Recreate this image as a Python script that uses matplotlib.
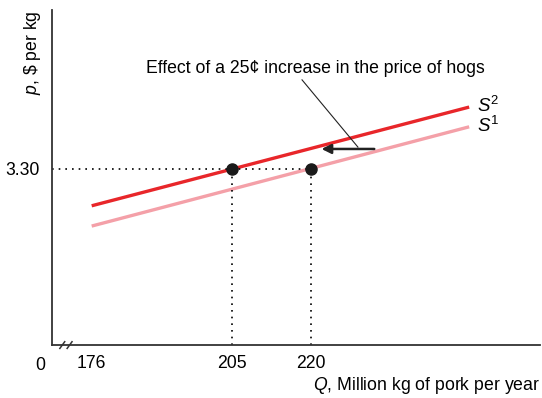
import numpy as np
import matplotlib.pyplot as plt

plt.rcParams['font.family'] = ['Liberation Sans', 'DejaVu Sans']
plt.rcParams['font.size'] = 12.7
plt.rcParams['mathtext.fontset'] = 'custom'
plt.rcParams['mathtext.rm'] = 'Liberation Sans'
plt.rcParams['mathtext.it'] = 'Liberation Sans:italic'

# data
q_ends = [176, 250]
s1_p = [2.23, 4.09]
s2_p = [2.61, 4.46]
q_eq = [205, 220]
p_eq = [3.30, 3.30]
arrow_q = [232, 222]
arrow_p = 3.675
x_ticks = [176, 205, 220]
y_ticks = [3.30]

# broken axis: squeeze the part below 205
k = 0.917
def fwd(q):
    q = np.asarray(q, dtype=float)
    return np.where(q >= 205, q, 205 - (205 - q) * k)
def inv(x):
    x = np.asarray(x, dtype=float)
    return np.where(x >= 205, x, 205 - (205 - x) / k)

fig = plt.figure(figsize=(5.42, 3.98), dpi=100)
ax = fig.add_axes([0.096, 0.133, 0.9, 0.842])
ax.set_xscale('function', functions=(fwd, inv))
ax.set_xlim(167.8, 263.4)
ax.set_ylim(0, 6.28)

ax.plot(q_ends, s1_p, color='#f4a0a8', lw=2.4, solid_capstyle='butt')
ax.plot(q_ends, s2_p, color='#e8262a', lw=2.4, solid_capstyle='butt')

# dotted guides
ax.plot([167.8, q_eq[1]], [p_eq[0], p_eq[0]], color='k', lw=1.2, ls=(0, (1, 3)))
for q in q_eq:
    ax.plot([q, q], [0, p_eq[0]], color='k', lw=1.2, ls=(0, (1, 3)))
ax.plot(q_eq, p_eq, 'o', color='#1a1a1a', ms=8, zorder=5)

ax.annotate('', xy=(arrow_q[1], arrow_p), xytext=(arrow_q[0], arrow_p),
            arrowprops=dict(arrowstyle='-|>', color='#222222', lw=1.8,
                            mutation_scale=14, shrinkA=0, shrinkB=0))
ax.text(220.9, 5.03, 'Effect of a 25¢ increase in the price of hogs',
        ha='center', va='bottom')
ax.plot([218.3, 228.9], [4.97, 3.71], color='#222222', lw=0.8)

ax.text(251.5, s2_p[1] + 0.02, '$S^2$', fontsize=13.5, va='center', ha='left')
ax.text(251.5, s1_p[1] + 0.02, '$S^1$', fontsize=13.5, va='center', ha='left')

ax.set_xticks(x_ticks)
ax.set_xticklabels([str(t) for t in x_ticks])
ax.set_yticks(y_ticks)
ax.set_yticklabels(['%.2f' % t for t in y_ticks])
ax.tick_params(axis='x', length=0, pad=7)
ax.tick_params(axis='y', length=0, pad=9)
ax.text(-0.025, -0.037, '0', transform=ax.transAxes, ha='center', va='top')

ax.spines['top'].set_visible(False)
ax.spines['right'].set_visible(False)
for s in ['left', 'bottom']:
    ax.spines[s].set_linewidth(1.3)
    ax.spines[s].set_color('#333333')

# break marks on the x axis
for x0 in [0.016, 0.031]:
    ax.plot([x0, x0 + 0.01], [-0.01, 0.01], transform=ax.transAxes,
            color='#333333', lw=1.1, clip_on=False)

ax.set_xlabel('$Q$, Million kg of pork per year', loc='right')
ax.xaxis.set_label_coords(1.0, -0.09)
ax.set_ylabel('$p$, \\$ per kg', loc='top')
ax.yaxis.set_label_coords(-0.018, 1.0)

fig.savefig('out.png', dpi=100)
